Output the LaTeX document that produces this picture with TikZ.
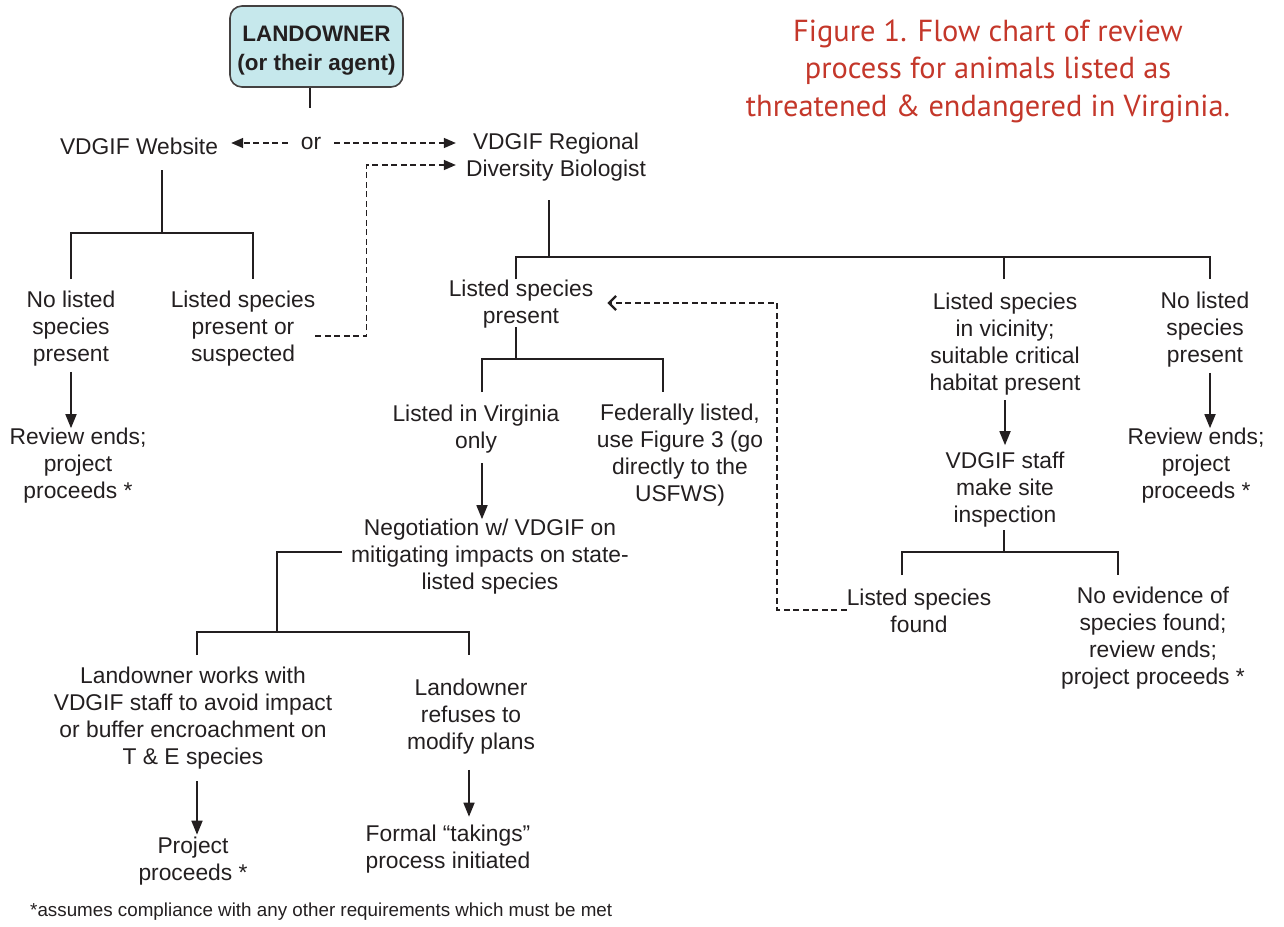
\documentclass[tikz,border=0pt]{standalone}
\usepackage{fontspec}
\setmainfont{Liberation Sans}
\newfontfamily\titlefont{PT Sans}
\usetikzlibrary{arrows.meta}
\definecolor{ink}{HTML}{231F20}
\definecolor{boxfill}{HTML}{C6E8EC}
\definecolor{titlered}{HTML}{C4372A}
\begin{document}
\begin{tikzpicture}[x=1pt,y=-1pt,
  txt/.style={font=\fontsize{22.8}{27}\selectfont, align=center, inner sep=0pt, text=ink},
  ownerbox/.style={font=\bfseries\fontsize{22.4}{29}\selectfont, text=ink,
    draw=ink!85, fill=boxfill, rounded corners=12pt, line width=1.6pt,
    minimum width=173pt, minimum height=81pt},
  titletxt/.style={font=\titlefont\fontsize{30.4}{37.5}\selectfont, align=center, inner sep=0pt, text=titlered},
  foottxt/.style={font=\fontsize{18.8}{22}\selectfont, inner sep=0pt, text=ink},
  link/.style={draw=ink, line width=1.7pt},
  arr/.style={link, -{Triangle[length=14pt,width=11pt]}},
  dlink/.style={draw=ink, line width=1.5pt, dash pattern=on 6pt off 3.5pt},
  darr/.style={dlink, -{Triangle[length=12pt,width=10pt]}},
  barb/.style={dlink, -{Straight Barb[length=7pt,width=14pt,line width=2.2pt]}}
]
\useasboundingbox (0,0) rectangle (1284,926);

% nodes
\node[ownerbox] (lo) at (316.5,46.5) {\raisebox{-3.5pt}[\height][\depth]{\begin{tabular}{@{}c@{}}LANDOWNER\\(or their agent)\end{tabular}}};
\node[txt] (or) at (311,143) {or};
\node[txt] (web) at (139,146) {VDGIF Website};
\node[txt] (bio) at (556,157) {VDGIF Regional\\Diversity Biologist};
\node[txt] (nl1) at (71,329) {No listed\\species\\present};
\node[txt] (lsus) at (243,329) {Listed species\\present or\\suspected};
\node[txt] (re1) at (78,466) {Review ends;\\project\\proceeds *};
\node[txt] (lsp) at (521,304) {Listed species\\present};
\node[txt] (lva) at (476,429) {Listed in Virginia\\only};
\node[txt] (fed) at (680,455) {Federally listed,\\use Figure 3 (go\\directly to the\\USFWS)};
\node[txt] (neg) at (490,557) {Negotiation w/ VDGIF on\\mitigating impacts on state-\\listed species};
\node[txt] (work) at (193,718) {Landowner works with\\VDGIF staff to avoid impact\\or buffer encroachment on\\T \& E species};
\node[txt] (refuse) at (471,717) {Landowner\\refuses to\\modify plans};
\node[txt] (proj) at (193,861) {Project\\proceeds *};
\node[txt] (formal) at (448,849) {Formal “takings”\\process initiated};
\node[txt] (lvic) at (1005,344) {Listed species\\in vicinity;\\suitable critical\\habitat present};
\node[txt] (staff) at (1005,490) {VDGIF staff\\make site\\inspection};
\node[txt] (lsf) at (919,611) {Listed species\\found};
\node[txt] (noev) at (1153,638) {No evidence of\\species found;\\review ends;\\project proceeds *};
\node[txt] (nl2) at (1205,330) {No listed\\species\\present};
\node[txt] (re2) at (1196,466) {Review ends;\\project\\proceeds *};
\node[titletxt] (title) at (988,71) {Figure 1. Flow chart of review\\process for animals listed as\\threatened \& endangered in Virginia.};
\node[foottxt, anchor=west] (foot) at (30,912) {*assumes compliance with any other requirements which must be met};

% junction coordinates
\coordinate (loStem) at (310,108);
\coordinate (wTop) at (162,170);
\coordinate (wJ) at (162,233);
\coordinate (wL) at (71,279);
\coordinate (wR) at (253,279);
\coordinate (bTop) at (549,200);
\coordinate (bJ) at (549,257);
\coordinate (bL) at (516,279);
\coordinate (bM) at (1004,279);
\coordinate (bR) at (1210,279);
\coordinate (pTop) at (516,327);
\coordinate (pJ) at (516,359);
\coordinate (pL) at (482,392);
\coordinate (pR) at (663,392);
\coordinate (nStart) at (342,552);
\coordinate (nJ) at (277,632);
\coordinate (nL) at (197,655);
\coordinate (nR) at (469,655);
\coordinate (sTop) at (1004,530);
\coordinate (sJ) at (1004,552);
\coordinate (sL) at (902,575);
\coordinate (sR) at (1118,575);
\coordinate (dCorner) at (777,303);

% solid tree lines
\draw[link] (lo.south -| loStem) -- (loStem);
\draw[link] (wTop) -- (wJ);
\draw[link] (wL) |- (wJ) -| (wR);
\draw[link] (bTop) -- (bJ);
\draw[link] (bL) |- (bJ) -| (bR);
\draw[link] (bM) -- (bM |- bJ);
\draw[link] (pTop) -- (pJ);
\draw[link] (pL) |- (pJ) -| (pR);
\draw[link] (nStart) -| (nJ);
\draw[link] (nL) |- (nJ) -| (nR);
\draw[link] (sTop) -- (sJ);
\draw[link] (sL) |- (sJ) -| (sR);

% arrows
\draw[arr] ([yshift=-5pt]nl1.south) -- (nl1.south |- re1.north);
\draw[arr] ([xshift=6pt,yshift=-10pt]lva.south) -- ([xshift=6pt]lva.south |- neg.north);
\draw[arr] ([xshift=4pt,yshift=-12pt]work.south) -- ([xshift=4pt,yshift=2pt]work.south |- proj.north);
\draw[arr] ([xshift=-2pt,yshift=-15pt]refuse.south) -- ([xshift=-2pt,yshift=8pt]refuse.south |- formal.north);
\draw[arr] ([yshift=-5pt]lvic.south) -- ([yshift=7pt]lvic.south |- staff.north);
\draw[arr] ([xshift=5pt,yshift=-5pt]nl2.south) -- ([xshift=5pt]nl2.south |- re2.north);

% dashed connectors
\draw[darr] ([xshift=-13pt]or.west) -- ([xshift=13pt]web.east |- or.west);
\draw[darr] ([xshift=13pt]or.east) -- ([xshift=-10pt]bio.west |- or.east);
\draw[darr] ([yshift=-7pt]lsus.east) -- ++(51,0) |- ([xshift=-10pt,yshift=-8pt]bio.west);
\draw[barb] ([yshift=1pt]lsf.west) -| (dCorner) -- ([xshift=14pt]lsp.east |- dCorner);
\end{tikzpicture}
\end{document}
